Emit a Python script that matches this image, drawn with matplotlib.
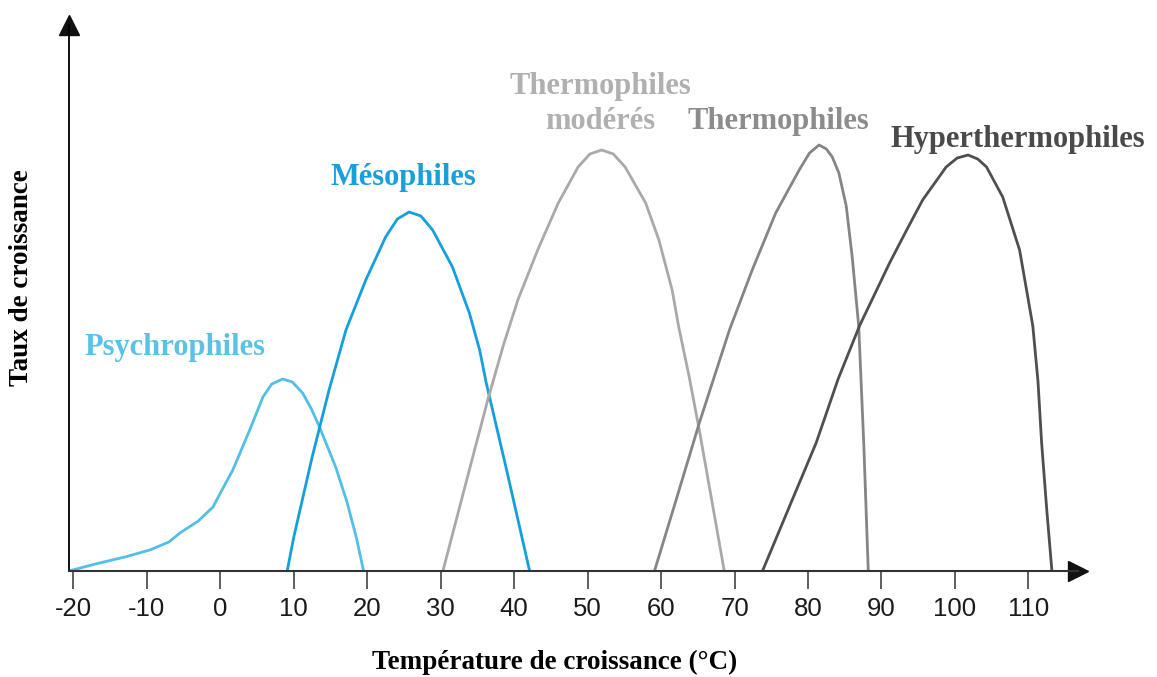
import numpy as np
import matplotlib
matplotlib.use('Agg')
import matplotlib.pyplot as plt

# temperature (°C) / growth rate (arbitrary units)
psychro_t = [-20.6, -17, -13, -9.6, -7, -5.5, -3, -1, 0.3, 1.7, 4.0, 5.8, 7.0, 8.5, 9.8,
             11.2, 12.4, 13.5, 15.7, 17.2, 18.5, 19.5]
psychro_r = [0, 7, 14, 21, 29, 38, 50, 64, 82, 101, 141, 174, 187, 192, 189,
             178, 162, 144, 104, 70, 34, 0]

meso_t = [9.1, 10.0, 12.5, 14.8, 17.1, 19.8, 22.5, 24.1, 25.7, 27.3, 28.9, 31.6, 33.9,
          35.3, 36.2, 39, 42.1]
meso_r = [0, 34, 114, 181, 241, 291, 334, 352, 359, 355, 341, 304, 258,
          221, 188, 100, 0]

thermo_mod_t = [30.3, 33.5, 36.4, 38.5, 40.5, 43.2, 46.0, 48.7, 50.3, 51.9, 53.5, 55.1,
                57.9, 59.7, 61.5, 62.4, 63.8, 65.2, 68.6]
thermo_mod_r = [0, 90, 171, 225, 271, 321, 368, 404, 417, 421, 417, 404,
                368, 331, 281, 244, 195, 141, 0]

thermo_t = [59.1, 62, 65.2, 69.3, 72.4, 75.6, 78.8, 80.2, 81.5, 82.5, 83.3, 84.2, 85.2,
            86.0, 86.9, 87.6, 88.2]
thermo_r = [0, 70, 148, 241, 301, 358, 401, 418, 426, 422, 414, 398, 365,
            315, 245, 125, 0]

hyper_t = [73.8, 77.5, 81.1, 84.1, 87.0, 91.1, 93.5, 95.6, 98.8, 100.3, 101.8, 103.1,
           104.3, 106.5, 108.8, 110.6, 111.3, 111.8, 112.5, 113.2]
hyper_r = [0, 65, 128, 192, 245, 308, 342, 371, 404, 413, 416, 412,
           404, 374, 321, 245, 190, 128, 61, 0]

xticks = np.arange(-20, 111, 10)

fig = plt.figure(figsize=(11.57, 6.77), dpi=100)
ax = fig.add_axes([69/1157, 106/677, 1009/1157, 546/677])
ax.set_xlim(-20.6, 116.75)
ax.set_ylim(0, 546)

serif = ['Liberation Serif', 'DejaVu Serif']

# curves
kw = dict(lw=2.0, solid_joinstyle='round', solid_capstyle='round')
ax.plot(psychro_t, psychro_r, color='#52bfe6', **kw)
ax.plot(meso_t, meso_r, color='#159fdc', **kw)
ax.plot(thermo_mod_t, thermo_mod_r, color='#a9a9a9', **kw)
ax.plot(thermo_t, thermo_r, color='#858585', **kw)
ax.plot(hyper_t, hyper_r, color='#4f4f4f', **kw)

# labels of the groups
ax.text(-6.2, 224, 'Psychrophiles', color='#5bc2e7', fontsize=22, fontweight='bold',
        family=serif, ha='center', va='center')
ax.text(24.9, 394, 'Mésophiles', color='#1a9fdb', fontsize=22, fontweight='bold',
        family=serif, ha='center', va='center')
ax.text(51.7, 467, 'Thermophiles\nmodérés', color='#b0b0b0', fontsize=22, fontweight='bold',
        family=serif, ha='center', va='center', linespacing=1.3)
ax.text(75.9, 449, 'Thermophiles', color='#8c8c8c', fontsize=22, fontweight='bold',
        family=serif, ha='center', va='center')
ax.text(108.5, 431, 'Hyperthermophiles', color='#4a4a4a', fontsize=22, fontweight='bold',
        family=serif, ha='center', va='center')

# axes with arrows
for s in ['top', 'right']:
    ax.spines[s].set_visible(False)
ax.spines['left'].set_color('black')
ax.spines['bottom'].set_color('#333333')
ax.spines['left'].set_linewidth(1.3)
ax.spines['bottom'].set_linewidth(1.5)
ax.plot(1, 0, '>', color='#111111', ms=14, transform=ax.transAxes, clip_on=False)
ax.plot(0, 1, '^', color='#111111', ms=14, transform=ax.transAxes, clip_on=False)

ax.set_xticks(xticks)
ax.set_xticklabels([str(t) for t in xticks], family=['Liberation Sans', 'DejaVu Sans'],
                   fontsize=18.5, color='#1a1a1a')
ax.tick_params(axis='x', direction='out', length=13, width=1.1, color='#333333', pad=6)
ax.set_yticks([])

fig.text(555/1157, 1 - 662/677, 'Température de croissance (°C)', fontsize=19.5,
         fontweight='bold', family=serif, ha='center', va='center')
fig.text(22/1157, 1 - 278/677, 'Taux de croissance', fontsize=19.5, rotation=90,
         fontweight='bold', family=serif, ha='center', va='center')

fig.savefig('out.png', dpi=100)
